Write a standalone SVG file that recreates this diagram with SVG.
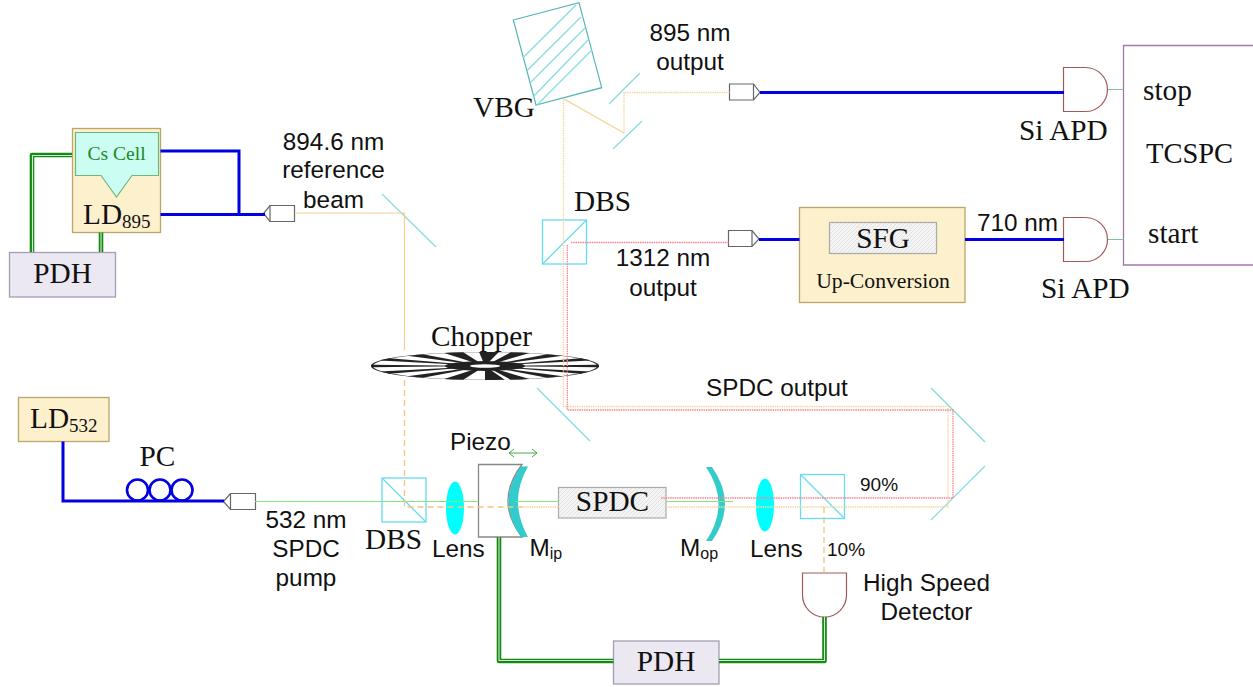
<svg xmlns="http://www.w3.org/2000/svg" xmlns:xlink="http://www.w3.org/1999/xlink" width="1253" height="687" viewBox="0 0 1253 687">
<style>
text{fill:#111}
.s{font-family:"Liberation Sans",Arial,sans-serif;font-size:24.300px}
.t{font-family:"Liberation Serif","Times New Roman",serif;font-size:29.300px}
.m{text-anchor:middle}
.box{fill:#fdf0cc;stroke:#bba568;stroke-width:1.3}
.pdh{fill:#ece8f2;stroke:#a49eb4;stroke-width:1.3}
.xtal{fill:url(#h);stroke:#aaa;stroke-width:1.2}
.mir{fill:none;stroke:#84dcdc;stroke-width:1.2}
.cube{fill:none;stroke:#66dcf0;stroke-width:1.3}
.lens{fill:#00ffff}
.cres{fill:#33cccc}
.cpl{fill:#fff;stroke:#666;stroke-width:1.2}
.det{fill:#fff;stroke:#a05a5a;stroke-width:1.2}
.blue{fill:none;stroke:#0000e0;stroke-width:3}
.gd{fill:none;stroke:#148a14;stroke-width:4.600;stroke-linejoin:round}
.gi{fill:none;stroke:#cfe8cf;stroke-width:1.100}
.gb{fill:none;stroke:#80e880;stroke-width:1.200}
.gs{fill:none;stroke:#7cc49c;stroke-width:1.100}
.o{fill:none;stroke:#f7d08c;stroke-width:1.200}
.od{fill:none;stroke:#f8d69c;stroke-width:1.300;stroke-dasharray:1.500 .8}
.oda{fill:none;stroke:#f5c47c;stroke-width:1.300;stroke-dasharray:6 4}
.r{fill:none;stroke:#f58492;stroke-width:1.300;stroke-dasharray:1.500 .8}
</style>
<defs>
<pattern id="h" width="4" height="4" patternUnits="userSpaceOnUse"><rect width="4" height="4" fill="#f4f4f4"/><path d="M0 4L4 0" stroke="#e2e2e2" stroke-width="1"/></pattern>
<path id="w" d="M0 0L113.600 -9.900A114 114 0 0 1 113.600 9.900Z" fill="#222"/>
</defs>

<g id="chopper">
<g transform="translate(485 366) scale(1 .123)">
<circle r="113" fill="#fff" stroke="#333" stroke-width="2"/>
<use href="#w"/><use href="#w" transform="rotate(28)"/><use href="#w" transform="rotate(52)"/><use href="#w" transform="rotate(72)"/><use href="#w" transform="rotate(85)"/><use href="#w" transform="rotate(106)"/><use href="#w" transform="rotate(128)"/><use href="#w" transform="rotate(152)"/><use href="#w" transform="rotate(180)"/><use href="#w" transform="rotate(208)"/><use href="#w" transform="rotate(232)"/><use href="#w" transform="rotate(254)"/><use href="#w" transform="rotate(272)"/><use href="#w" transform="rotate(288)"/><use href="#w" transform="rotate(308)"/><use href="#w" transform="rotate(332)"/>
<ellipse rx="40" ry="40" fill="#222"/>
<ellipse rx="15" ry="14" fill="#fff"/>
</g>
<text class="t" x="431" y="346">Chopper</text>
</g>

<g id="ld895">
<rect class="box" x="72.500" y="128.500" width="88" height="104"/>
<text class="t" x="83" y="224">LD<tspan font-size="19" dy="4">895</tspan></text>
</g>
<g id="cs-cell">
<path d="M75.500 132.500H158.500V175.500H132L116.500 197L101 175.500H75.500Z" fill="#ccfdf3" stroke="#6cb878" stroke-width="1.200"/>
<text class="m" x="116.500" y="160" style="font-family:'Liberation Serif',serif;font-size:19.600px;fill:#1a8a2a">Cs Cell</text>
</g>
<g id="pdh-top">
<rect class="pdh" x="9.500" y="252.500" width="106" height="44.500"/>
<text class="t m" x="62.500" y="283">PDH</text>
</g>
<g id="ld532">
<rect class="box" x="18.500" y="397.500" width="90.500" height="44"/>
<text class="t" x="30" y="428">LD<tspan font-size="19" dy="4">532</tspan></text>
</g>
<g id="pc">
<circle cx="137.500" cy="490" r="10.500" fill="none" stroke="#0000e0" stroke-width="2.600"/>
<circle cx="160" cy="490" r="10.500" fill="none" stroke="#0000e0" stroke-width="2.600"/>
<circle cx="182" cy="490" r="10.500" fill="none" stroke="#0000e0" stroke-width="2.600"/>
<text class="t m" x="157.500" y="466">PC</text>
</g>
<g id="coupler-ref"><path class="cpl" d="M270 205.500H294.500V221.500H270L263.500 213.500Z"/><path class="cpl" d="M270 205.500V221.500"/></g>
<g id="coupler-pump"><path class="cpl" d="M230.500 493.500H255.500V509.500H230.500L223.500 501.500Z"/><path class="cpl" d="M230.500 493.500V509.500"/></g>
<g id="coupler-895"><path class="cpl" d="M729.500 84H753.500L760 92.500L753.500 100H729.500Z"/><path class="cpl" d="M753.500 84V100"/></g>
<g id="coupler-1312"><path class="cpl" d="M728.500 230.500H752L759 239L752 246.500H728.500Z"/><path class="cpl" d="M752 230.500V246.500"/></g>

<g id="mirrors">
<path class="mir" d="M382 194L436 247"/>
<path class="mir" d="M537 388L590 441"/>
<path class="mir" d="M609 104L640 73"/>
<path class="mir" d="M613 149L642 121"/>
<path class="mir" d="M931 388L985 442"/>
<path class="mir" d="M931 520L985 466"/>
</g>
<g id="vbg">
<path d="M513.300 20L579 2.700L601.700 87.700L536 105Z" fill="none" stroke="#55b4b8" stroke-width="1.200"/>
<path class="mir" d="M522.700 58L576 5M526.700 71L581 17M530 83L585 28M533 97L588 40M537 105L592 50"/>
<text class="t" x="473" y="117">VBG</text>
</g>
<g id="dbs-upper">
<rect class="cube" x="542.500" y="220" width="44" height="44"/>
<path class="cube" d="M542.500 264L586.500 220"/>
<text class="t" x="574" y="211">DBS</text>
</g>
<g id="dbs-lower">
<rect class="cube" x="382" y="478" width="44" height="44"/>
<path class="cube" d="M382 478L426 522"/>
<text class="t" x="365" y="549">DBS</text>
</g>
<g id="lens-1"><ellipse class="lens" cx="455" cy="508" rx="9" ry="26.500"/><text class="s" x="432" y="557">Lens</text></g>
<g id="lens-2"><ellipse class="lens" cx="765" cy="505" rx="9" ry="26.500"/><text class="s" x="750" y="557">Lens</text></g>
<g id="piezo">
<path d="M478.500 464.500H522Q494 501 522 537H478.500Z" fill="#fff" stroke="#888" stroke-width="1.300"/>
<path d="M509 453H537M514 449L509 453L514 457M532 449L537 453L532 457" fill="none" stroke="#4aa84a" stroke-width="1"/>
<text class="s" x="450" y="450">Piezo</text>
</g>
<g id="mirror-ip">
<path class="cres" d="M521 466.500H528Q508 501 528 537H521Q496 501 521 466.500Z"/>
<text class="s" x="529.500" y="556">M<tspan font-size="16" dy="3">ip</tspan></text>
</g>
<g id="spdc">
<rect class="xtal" x="558.500" y="487.500" width="107.500" height="30.500"/>
<text class="t m" x="612.500" y="511">SPDC</text>
</g>
<g id="mirror-op">
<path class="cres" d="M706 467H712Q738 504 712 541H706Q731 504 706 467Z"/>
<text class="s" x="680" y="556">M<tspan font-size="16" dy="3">op</tspan></text>
</g>
<g id="bs"><rect class="cube" x="800.500" y="474.500" width="44" height="44"/><path class="cube" d="M800.500 474.500L844.500 518.500"/></g>
<g id="detector">
<path class="det" d="M802.500 573H846.500V595A22 22 0 0 1 802.500 595Z"/>
<text class="s m" x="926.500" y="591">High Speed</text>
<text class="s m" x="926.500" y="620">Detector</text>
</g>
<g id="pdh-bottom">
<rect class="pdh" x="613.500" y="641" width="105.500" height="43"/>
<text class="t m" x="666" y="671">PDH</text>
</g>
<g id="up-conversion">
<rect class="box" x="799.500" y="207.500" width="165.500" height="95"/>
<rect class="xtal" x="829.500" y="222.500" width="107" height="31"/>
<text class="t m" x="883" y="248">SFG</text>
<text class="m" x="883" y="288" style="font-family:'Liberation Serif',serif;font-size:21.700px">Up-Conversion</text>
</g>
<g id="apd-stop">
<path class="det" d="M1063.500 67.500H1085.500A22 22 0 0 1 1085.500 111.500H1063.500Z"/>
<text class="t" x="1019" y="140">Si APD</text>
</g>
<g id="apd-start">
<path class="det" d="M1063.500 217.500H1085.500A22 22 0 0 1 1085.500 261.500H1063.500Z"/>
<text class="t" x="1041" y="298">Si APD</text>
</g>
<g id="tcspc">
<path d="M1253 45.500H1123.500V265H1253" fill="none" stroke="#a874b0" stroke-width="1.300"/>
<text class="t" x="1143" y="100">stop</text>
<text class="t" x="1146" y="163" style="font-size:28.500px">TCSPC</text>
<text class="t" x="1148" y="243">start</text>
</g>

<g id="connectors">
<path class="blue" d="M160.500 151H239V214.500M160.500 214.500H265"/>
<path class="blue" d="M63 441.500V501H224"/>
<path class="blue" d="M760 92.500H1064"/>
<path class="blue" d="M759 239.500H799.500"/>
<path class="blue" d="M965 239.500H1064"/>
<path class="gd" d="M72 155H32V252"/><path class="gi" d="M72 155.500H32.500V252"/>
<path class="gd" d="M101 232.500V252"/><path class="gi" d="M101 232.500V252"/>
<path class="gd" d="M499 537V661H613.500"/><path class="gi" d="M499 537V660.500H613.500"/>
<path class="gd" d="M824.500 617V661H719"/><path class="gi" d="M824.500 617V660.500H719"/>
<path class="gb" d="M255 501.500H478M516 501.500H558.500M666 501.500H733"/>
<path class="gs" d="M1108 89.500H1123.500M1108 239.500H1123.500"/>
<path class="o" d="M294.500 213H404.500V350"/>
<path class="oda" d="M404.500 380V507H525"/>
<path class="od" d="M525 507H558.500M666 507H948V406.500H563.500V99"/>
<path class="o" d="M564 99L624 133"/>
<path class="od" d="M624 133V92.500H729.500"/>
<path class="oda" d="M824 507V573"/>
<path class="r" d="M661 498H953V410H567.300V245M571 242.500H728.500"/>
</g>

<g id="labels">
<text class="s m" x="333.500" y="150">894.6 nm</text>
<text class="s m" x="333.500" y="178">reference</text>
<text class="s m" x="333.500" y="208">beam</text>
<text class="s m" x="690" y="41">895 nm</text>
<text class="s m" x="690" y="70">output</text>
<text class="s m" x="663" y="266">1312 nm</text>
<text class="s m" x="663" y="296">output</text>
<text class="s" x="706" y="396">SPDC output</text>
<text class="s m" x="306" y="528">532 nm</text>
<text class="s m" x="306" y="557">SPDC</text>
<text class="s m" x="306" y="586">pump</text>
<text class="s" x="977" y="231">710 nm</text>
<text class="s" x="860" y="491" style="font-size:19px">90%</text>
<text class="s" x="827" y="556" style="font-size:19px">10%</text>
</g>
</svg>
